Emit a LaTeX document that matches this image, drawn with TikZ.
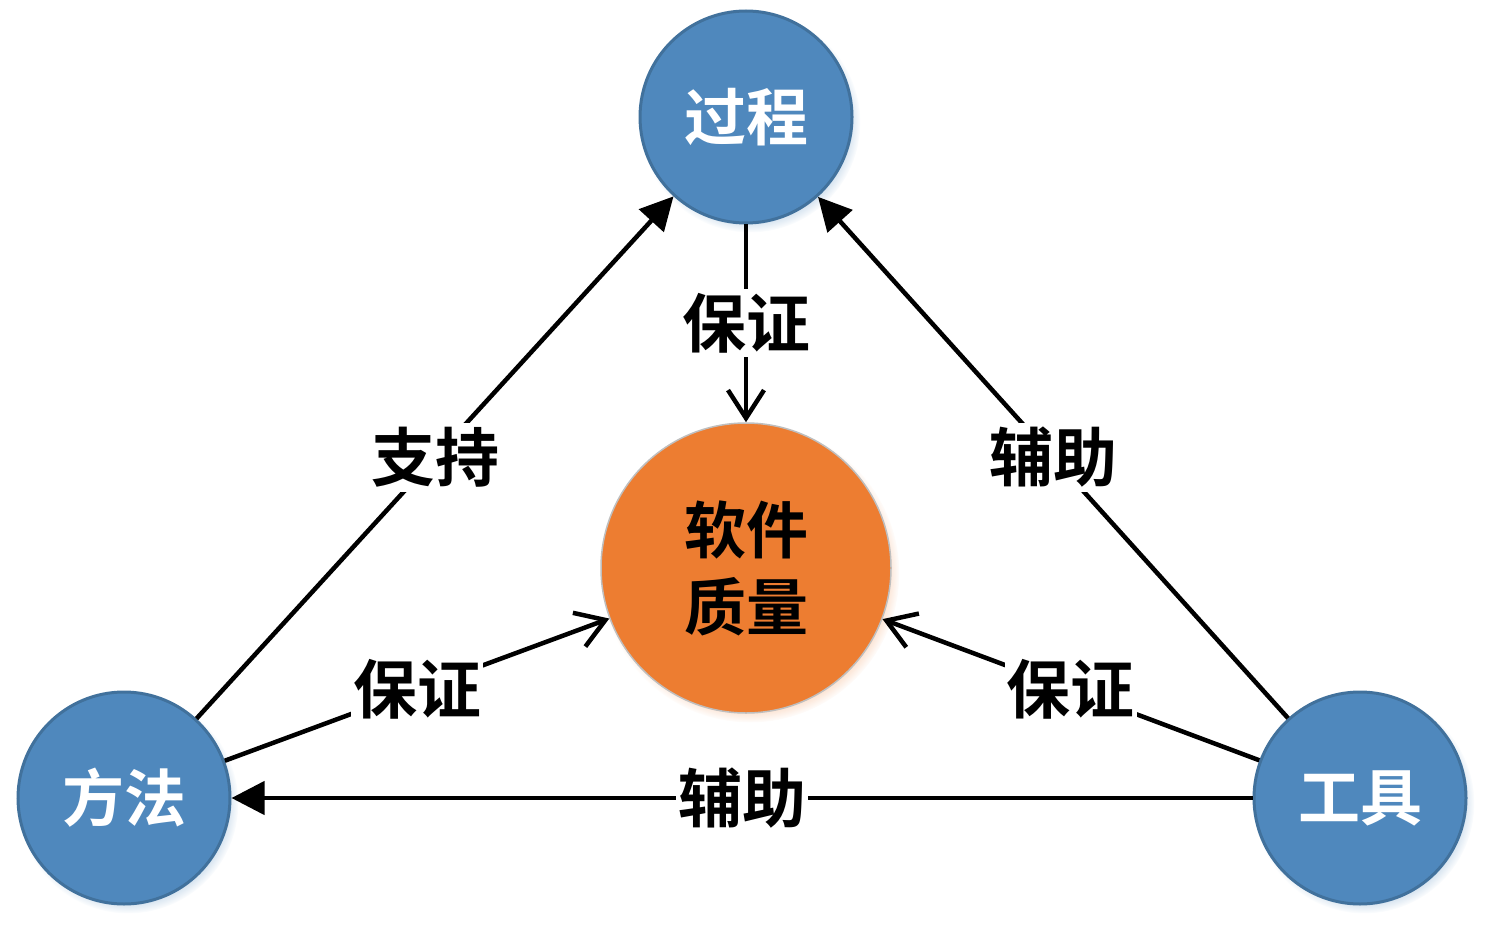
\documentclass[tikz,border=0pt]{standalone}
\usepackage{fontspec}
\newfontfamily\cjk{Noto Sans CJK SC}[BoldFont={Noto Sans CJK SC Bold}]
\usetikzlibrary{arrows.meta,shadows}
\definecolor{ballblue}{HTML}{4F88BD}
\definecolor{balledge}{HTML}{41719C}
\definecolor{ballorange}{HTML}{ED7D31}

\tikzset{
  ball/.style={circle, minimum size=212pt, inner sep=0pt, fill=ballblue,
    draw=balledge, line width=3pt, text=white,
    circular drop shadow={shadow xshift=4pt, shadow yshift=-5pt,
      shadow scale=1.04, fill=ballblue!80, opacity=0.45},
    font=\cjk\bfseries\fontsize{62pt}{62pt}\selectfont},
  core/.style={circle, minimum size=290pt, inner sep=0pt, fill=ballorange,
    draw=black!25, line width=1.5pt, align=center,
    circular drop shadow={shadow xshift=4pt, shadow yshift=-5pt,
      shadow scale=1.03, fill=ballorange!90, opacity=0.45},
    font=\cjk\bfseries\fontsize{62pt}{77pt}\selectfont},
  lbl/.style={fill=white, inner sep=4pt, text=black,
    font=\cjk\bfseries\fontsize{64pt}{64pt}\selectfont},
  sup/.style={line width=4.5pt, -{Triangle[length=33pt,width=33pt]}},
  gua/.style={line width=4.5pt, -{Straight Barb[length=28pt,width=36pt,line width=4.5pt]}}
}

\begin{document}
\begin{tikzpicture}[x=1pt, y=-1pt]

  \useasboundingbox (0,0) rectangle (1487,933);

  \node[ball] (proc) at (746,117) {过程};
  \node[ball] (meth) at (124,798) {方法};
  \node[ball] (tool) at (1360,798) {工具};
  \node[core] (qual) at (746,568) {软件\\质量};

  \draw[sup] (meth) -- node[lbl] (l1) {支持} (proc);
  \draw[sup] (tool) -- node[lbl] (l2) {辅助} (proc);
  \draw[sup] (tool) -- node[lbl, inner sep=2pt] (l3) {辅助} (meth);

  \draw[gua] (proc) -- node[lbl] (l4) {保证} (qual);
  \draw[gua] (meth) -- node[lbl, inner sep=2pt] (l5) {保证} (qual);
  \draw[gua] (tool) -- node[lbl, inner sep=2pt] (l6) {保证} (qual);

\end{tikzpicture}
\end{document}
